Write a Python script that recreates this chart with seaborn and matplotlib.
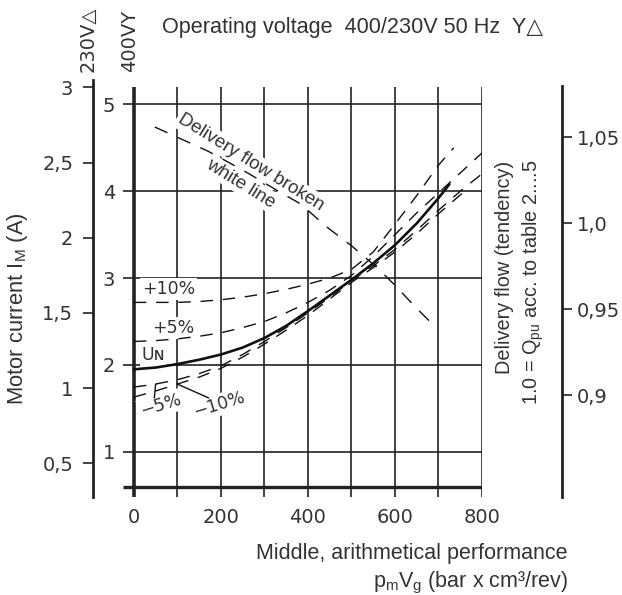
import numpy as np
import matplotlib
matplotlib.use("Agg")
import matplotlib.pyplot as plt
import seaborn as sns

# ---------------- data ----------------
# motor current at 400 V (Y), A, versus p_m*V_g (bar x cm3/rev)
un_x = [0, 50, 100, 150, 200, 250, 300, 350, 400, 450, 500, 550, 600, 650, 700, 725]
un_y = [1.95, 1.97, 2.01, 2.06, 2.12, 2.20, 2.31, 2.45, 2.62, 2.80, 2.98, 3.17, 3.38, 3.63, 3.92, 4.08]

p10_x = [0, 50, 100, 150, 200, 250, 300, 350, 400, 450, 500, 550, 600, 650, 700, 735]
p10_y = [2.72, 2.72, 2.72, 2.73, 2.75, 2.78, 2.82, 2.87, 2.93, 3.00, 3.10, 3.30, 3.62, 3.95, 4.30, 4.50]

p5_x = [0, 50, 100, 150, 200, 250, 300, 350, 400, 450, 500, 550, 600, 650, 700, 750, 800]
p5_y = [2.27, 2.28, 2.30, 2.33, 2.37, 2.43, 2.50, 2.60, 2.72, 2.86, 3.03, 3.25, 3.50, 3.75, 3.98, 4.21, 4.44]

m5_x = [0, 50, 100, 150, 200, 250, 300, 350, 400, 450, 500, 550, 600, 650, 700, 750, 800]
m5_y = [1.745, 1.78, 1.83, 1.90, 1.99, 2.12, 2.27, 2.43, 2.60, 2.78, 2.97, 3.14, 3.33, 3.55, 3.78, 4.00, 4.20]

m10_x = [0, 50, 100, 150, 200, 250, 300, 350, 400, 450, 500, 550, 600, 650, 700, 760]
m10_y = [1.63, 1.70, 1.78, 1.86, 1.96, 2.09, 2.24, 2.40, 2.57, 2.76, 2.95, 3.12, 3.30, 3.51, 3.74, 4.00]

# delivery flow tendency (1.0 = Q_pu)
flow_x = [48, 170, 250, 330, 385, 440, 500, 560, 600, 650, 696]
flow_q = [1.056, 1.042, 1.031, 1.019, 1.011, 0.9985, 0.987, 0.974, 0.964, 0.9505, 0.939]

# ticks / labels
x_ticks = [0, 200, 400, 600, 800]
x_grid = [0, 100, 200, 300, 400, 500, 600, 700, 800]
y400_ticks = [1, 2, 3, 4, 5]
y230_ticks = [0.5, 1.0, 1.5, 2.0, 2.5, 3.0]
y230_labels = ["0,5", "1", "1,5", "2", "2,5", "3"]
q_ticks = [0.9, 0.95, 1.0, 1.05]
q_labels = ["0,9", "0,95", "1,0", "1,05"]

# scale relations
Q_REF_AMP = 3.63     # 400V current level that corresponds to Q = 1.0
AMP_PER_Q = 19.8
SQ3 = np.sqrt(3.0)

def amp_to_q(a):
    return 1.0 + (np.asarray(a) - Q_REF_AMP) / AMP_PER_Q

def q_to_amp(q):
    return Q_REF_AMP + (np.asarray(q) - 1.0) * AMP_PER_Q

def a400_to_a230(a):
    return np.asarray(a) / SQ3

def a230_to_a400(a):
    return np.asarray(a) * SQ3

# ---------------- style ----------------
sns.set_theme(style="white")
plt.rcParams['font.family'] = ['Liberation Sans', 'DejaVu Sans']
plt.rcParams['mathtext.fontset'] = 'custom'
plt.rcParams['mathtext.rm'] = 'Liberation Sans'
plt.rcParams['mathtext.it'] = 'Liberation Sans'

TXT = '#333333'
LINE = '#111111'
GRID = '#222222'
NUMFONT = ['DejaVu Sans']
W, H = 622, 595

fig = plt.figure(figsize=(W / 100, H / 100), dpi=100)
fig.patch.set_facecolor('white')
ax = fig.add_axes([123 / W, 1 - 497 / H, 359 / W, 417 / H])
ax.set_facecolor('white')
ax.set_xlim(-25, 800)
ax.set_ylim(0.48, 5.28)
for s in ax.spines.values():
    s.set_visible(False)

# grid
ax.hlines(y400_ticks, -25, 800, color=GRID, lw=1.2, zorder=1)
ax.hlines(0.6, -25, 800, color=GRID, lw=2.4, zorder=1)
ax.vlines(x_grid[1:], 0.48, 5.2, color=GRID, lw=1.2, zorder=1)
ax.vlines(x_grid[0], 0.48, 5.2, color=GRID, lw=2.6, zorder=1)

# ticks main axes
ax.set_xticks(x_ticks, labels=[str(v) for v in x_ticks])
ax.set_yticks(y400_ticks, labels=[str(v) for v in y400_ticks])
ax.tick_params(axis='x', length=0, pad=8, labelsize=14, labelcolor=TXT, bottom=False)
ax.tick_params(axis='y', length=0, pad=5.5, labelsize=14, labelcolor=TXT, left=False)
for lab in ax.get_xticklabels() + ax.get_yticklabels():
    lab.set_family(NUMFONT)

# curves
dash = (0, (9, 7))
sns.lineplot(x=p10_x, y=p10_y, ax=ax, color=LINE, lw=1.0, linestyle=dash, estimator=None, zorder=4)
sns.lineplot(x=p5_x, y=p5_y, ax=ax, color=LINE, lw=1.0, linestyle=dash, estimator=None, zorder=4)
sns.lineplot(x=m5_x, y=m5_y, ax=ax, color=LINE, lw=1.0, linestyle=dash, estimator=None, zorder=4)
sns.lineplot(x=m10_x, y=m10_y, ax=ax, color=LINE, lw=1.0, linestyle=dash, estimator=None, zorder=4)
sns.lineplot(x=un_x, y=un_y, ax=ax, color=LINE, lw=1.9, estimator=None, zorder=5)
sns.lineplot(x=flow_x, y=q_to_amp(flow_q), ax=ax, color=LINE, lw=1.0,
             linestyle=(0, (10, 8)), estimator=None, zorder=5)

# curve labels
box = dict(boxstyle='square,pad=0.12', fc='white', ec='none')
lab_kw = dict(fontsize=12.5, color=TXT, family=NUMFONT, zorder=3, bbox=box)
ax.text(18, 2.87, "+10%", ha='left', va='center', **lab_kw)
ax.text(41, 2.43, "+5%", ha='left', va='center', **lab_kw)
ax.text(18, 2.11, "U\u0274", ha='left', va='center', **lab_kw)
ax.text(62, 1.54, "\u22125%", ha='center', va='center', rotation=17, **lab_kw)
ax.text(195, 1.54, "\u221210%", ha='center', va='center', rotation=17, **lab_kw)
ax.annotate("", xy=(m5_x[1], m5_y[1]), xytext=(47, 1.62),
            arrowprops=dict(arrowstyle='-', lw=1.0, color=LINE, shrinkA=0, shrinkB=0), zorder=4)
ax.annotate("", xy=(m10_x[2], m10_y[2]), xytext=(172, 1.62),
            arrowprops=dict(arrowstyle='-', lw=1.0, color=LINE, shrinkA=0, shrinkB=0), zorder=4)

ax.text(269, 4.33, "Delivery flow broken", rotation=-32, ha='center', va='center',
        rotation_mode='anchor', fontsize=13.5, color=TXT, zorder=3, bbox=box)
ax.text(246, 4.09, "white line", rotation=-32, ha='center', va='center',
        rotation_mode='anchor', fontsize=13.5, color=TXT, zorder=3, bbox=box)

# 230 V (delta) axis on the left
sec_l = ax.secondary_yaxis(-30 / 359, functions=(a400_to_a230, a230_to_a400))
sec_l.set_yticks(y230_ticks, labels=y230_labels)
sec_l.tick_params(axis='y', left=True, length=7.2, width=1.2, pad=7, labelsize=14,
                  labelcolor=TXT, color=GRID)
sec_l.spines['left'].set_linewidth(2.0)
sec_l.spines['left'].set_color(GRID)
for lab in sec_l.get_yticklabels():
    lab.set_family(NUMFONT)

# delivery flow axis on the right
sec_r = ax.secondary_yaxis((562 - 123) / 359, functions=(amp_to_q, q_to_amp))
sec_r.set_yticks(q_ticks, labels=q_labels)
sec_r.tick_params(axis='y', right=True, length=7.2, width=1.2, pad=3.5, labelsize=14,
                  labelcolor=TXT, color=GRID)
sec_r.spines['right'].set_linewidth(2.0)
sec_r.spines['right'].set_color(GRID)
sec_r.spines['right'].set_bounds(0.841, 1.08)
for lab in sec_r.get_yticklabels():
    lab.set_family(NUMFONT)

# texts around
fig.text(162 / W, 1 - 28 / H, "Operating voltage  400/230V 50 Hz  Y\u25B3",
         ha='left', va='center', fontsize=15.6, color=TXT)
fig.text(88.5 / W, 1 - 72 / H, "230V\u25B3", rotation=90, ha='center', va='bottom',
         fontsize=14, color=TXT, family=NUMFONT)
fig.text(129.5 / W, 1 - 72 / H, "400VY", rotation=90, ha='center', va='bottom',
         fontsize=14, color=TXT, family=NUMFONT)
fig.text(18 / W, 1 - 309 / H, "Motor current I$_{\\mathregular{M}}$ (A)", rotation=90,
         ha='center', va='center', fontsize=15.8, color=TXT)
fig.text(504 / W, 1 - 161 / H, "Delivery flow (tendency)", rotation=90,
         ha='center', va='top', fontsize=14.3, color=TXT)
fig.text(533 / W, 1 - 159 / H, "1.0 = Q$_{\\mathregular{pu}}$ acc. to table 2....5", rotation=90,
         ha='center', va='top', fontsize=14.3, color=TXT)
fig.text(568 / W, 1 - 553 / H, "Middle, arithmetical performance",
         ha='right', va='center', fontsize=15.5, color=TXT)
fig.text(568 / W, 1 - 583 / H, "p$_{\\mathregular{m}}$V$_{\\mathregular{g}}$ (bar x cm\u00b3/rev)",
         ha='right', va='center', fontsize=15.5, color=TXT)

fig.savefig("out.png", dpi=100, facecolor='white')
